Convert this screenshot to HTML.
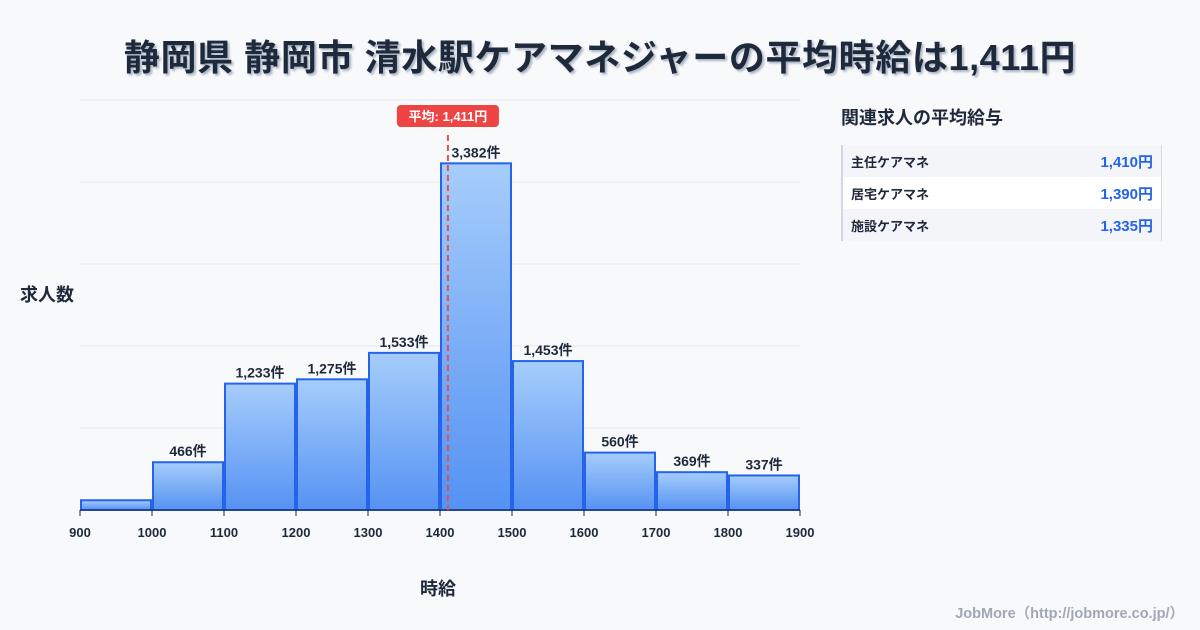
<!DOCTYPE html>
<html><head><meta charset="utf-8"><style>
body{margin:0;background:#f8f9fb;font-family:"Liberation Sans","Noto Sans CJK JP",sans-serif;}
#wrap{position:relative;width:1200px;height:630px;overflow:hidden;background:#f8f9fb}
.t{position:absolute;white-space:nowrap}
</style></head><body>
<div id="wrap">
<div class="t" style="left:0;width:1200px;top:29px;text-align:center;font-size:36px;letter-spacing:0.6px;font-weight:bold;color:#1e293b;text-shadow:2px 2px 2px #aab4c3;">静岡県 静岡市 清水駅ケアマネジャーの平均時給は1,411円</div>
<svg id="chart" width="820" height="630" style="position:absolute;left:0;top:0"></svg>
<div class="t" style="left:20px;top:281px;font-size:18px;font-weight:bold;color:#1e293b">求人数</div>
<div class="t" style="left:420px;top:575px;font-size:18px;font-weight:bold;color:#1e293b">時給</div>
<div class="t" style="left:841px;top:104px;font-size:18px;font-weight:bold;color:#1e293b">関連求人の平均給与</div>
<div style="position:absolute;left:841px;top:145px;width:318px;border-left:2px solid #cfd8e3;border-right:1px solid #d5dbe3;font-size:13px;font-weight:bold;color:#1e293b">
 <div style="height:32px;background:#f3f5f8;display:flex;justify-content:space-between;align-items:center;padding:0 8px"><span>主任ケアマネ</span><span style="color:#2563eb;font-size:15px">1,410円</span></div>
 <div style="height:32px;background:#fff;display:flex;justify-content:space-between;align-items:center;padding:0 8px"><span>居宅ケアマネ</span><span style="color:#2563eb;font-size:15px">1,390円</span></div>
 <div style="height:32px;background:#f3f5f8;display:flex;justify-content:space-between;align-items:center;padding:0 8px"><span>施設ケアマネ</span><span style="color:#2563eb;font-size:15px">1,335円</span></div>
</div>
<div class="t" style="right:16px;top:602px;font-size:14.5px;font-weight:bold;color:#a0a8b4">JobMore（http://jobmore.co.jp/）</div>
</div>
<script>
const binStarts=[900,1000,1100,1200,1300,1400,1500,1600,1700,1800];
const counts=[95,466,1233,1275,1533,3382,1453,560,369,337];
const xTicks=[900,1000,1100,1200,1300,1400,1500,1600,1700,1800,1900];
const yGrid=[0,800,1600,2400,3200,4000];
const meanValue=1411;
const NS="http://www.w3.org/2000/svg";
const svg=document.getElementById('chart');
const x=v=>80+(v-900)*0.72;
const y=v=>510-v*410/4000;
function el(t,a){const e=document.createElementNS(NS,t);for(const k in a)e.setAttribute(k,a[k]);svg.appendChild(e);return e;}
const defs=el('defs',{});
defs.innerHTML='<linearGradient id="g" x1="0" y1="0" x2="0" y2="1"><stop offset="0" stop-color="#a6cdfb"/><stop offset="1" stop-color="#5592f3"/></linearGradient>';
yGrid.forEach(v=>{const l=el('line',{x1:80,x2:800,y1:y(v),y2:y(v),stroke:'#e3e7ec','stroke-width':1});
});
binStarts.forEach((b,i)=>{
 const r=el('rect',{x:x(b)+1,y:y(counts[i]),width:x(b+100)-x(b)-2,height:y(0)-y(counts[i]),fill:'url(#g)',stroke:'#2563eb','stroke-width':2});
 
 if(i>0){const t=el('text',{x:(x(b)+x(b+100))/2,y:y(counts[i])-6,'text-anchor':'middle','font-size':14,'font-weight':'bold',fill:'#1e293b'});
 t.textContent=counts[i].toLocaleString('en-US')+'件';
 }
});
const ax=el('line',{x1:80,x2:800,y1:510,y2:510,stroke:'#1e293b','stroke-width':1});

xTicks.forEach(v=>{const tk=el('line',{x1:x(v),x2:x(v),y1:510,y2:516,stroke:'#1e293b'});

const t=el('text',{x:x(v),y:537,'text-anchor':'middle','font-size':13,'font-weight':'bold',fill:'#1e293b'});t.textContent=v;
});
const mx=x(meanValue);
const ml=el('line',{x1:mx,x2:mx,y1:135,y2:510,stroke:'#e05252','stroke-width':2,'stroke-dasharray':'6,4'});

const mb=el('rect',{x:mx-51,y:105,width:102,height:22,rx:4,fill:'#ef4444'});

const mt=el('text',{x:mx,y:121,'text-anchor':'middle','font-size':13,'font-weight':'bold',fill:'#fff'});
mt.textContent='平均: 1,411円';
</script>
</body></html>
